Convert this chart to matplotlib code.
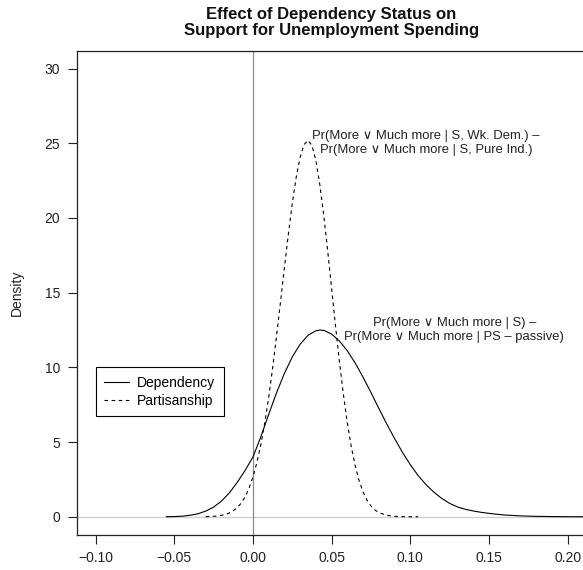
import matplotlib
matplotlib.use("Agg")
import matplotlib.pyplot as plt

plt.rcParams['font.family'] = ['Liberation Sans', 'DejaVu Sans']

# density of the first difference, dependency model (solid line)
dep_x = [-0.055, -0.05, -0.045, -0.04, -0.035, -0.03, -0.025, -0.02, -0.015, -0.01, -0.005,
         0.0, 0.005, 0.01, 0.015, 0.02, 0.025, 0.03, 0.035, 0.04, 0.0425, 0.045,
         0.05, 0.055, 0.06, 0.065, 0.07, 0.075, 0.08, 0.085, 0.09, 0.095, 0.10, 0.105,
         0.11, 0.115, 0.12, 0.125, 0.13, 0.135, 0.14, 0.145, 0.15, 0.155, 0.16,
         0.17, 0.18, 0.19, 0.20, 0.215]
dep_y = [0.005, 0.015, 0.04, 0.1, 0.2, 0.38, 0.65, 1.05, 1.6, 2.3, 3.1,
         4.0, 5.35, 6.85, 8.3, 9.6, 10.7, 11.55, 12.15, 12.45, 12.5, 12.48,
         12.23, 11.76, 11.11, 10.29, 9.34, 8.32, 7.26, 6.22, 5.24, 4.32, 3.49, 2.76,
         2.15, 1.65, 1.23, 0.9, 0.66, 0.5, 0.39, 0.3, 0.23, 0.17, 0.12,
         0.06, 0.03, 0.015, 0.006, 0.002]

# partisanship model (dashed line)
par_x = [-0.03, -0.025, -0.02, -0.0175, -0.015, -0.0125, -0.01, -0.0075, -0.005, -0.0025,
         0.0, 0.0025, 0.005, 0.0075, 0.01, 0.0125, 0.015, 0.0175, 0.02, 0.0225,
         0.025, 0.0275, 0.03, 0.0325, 0.035, 0.0375, 0.04, 0.0425, 0.045, 0.0475,
         0.05, 0.0525, 0.055, 0.0575, 0.06, 0.0625, 0.065, 0.0675, 0.07, 0.0725,
         0.075, 0.0775, 0.08, 0.085, 0.09, 0.095, 0.10, 0.105]
par_y = [0.01, 0.03, 0.10, 0.16, 0.255, 0.40, 0.61, 0.91, 1.34, 1.90,
         2.66, 3.63, 4.82, 6.28, 7.99, 9.95, 12.10, 14.36, 16.68, 18.90,
         20.97, 22.73, 24.07, 24.91, 25.2, 24.85, 23.85, 22.24, 20.18, 17.81,
         15.28, 12.75, 10.36, 8.19, 6.28, 4.69, 3.41, 2.41, 1.66, 1.11,
         0.72, 0.46, 0.28, 0.10, 0.03, 0.01, 0.003, 0.0]

x_ticks = [-0.10, -0.05, 0.00, 0.05, 0.10, 0.15, 0.20]
y_ticks = [0, 5, 10, 15, 20, 25, 30]

label_par = "Pr(More \u2228 Much more | S, Wk. Dem.) \u2013\nPr(More \u2228 Much more | S, Pure Ind.)"
label_dep = "Pr(More \u2228 Much more | S) \u2013\nPr(More \u2228 Much more | PS \u2013 passive)"

fig = plt.figure(figsize=(5.83, 5.70), dpi=100)
ax = fig.add_axes([0.1316, 0.0619, 0.8744, 0.8492])

# reference lines at zero
ax.axhline(0, color="#cfcfcf", lw=0.9, zorder=1)
ax.axvline(0, color="#8a8a8a", lw=0.9, zorder=1)

ax.plot(dep_x, dep_y, color="black", lw=0.8, label="Dependency", zorder=3)
ax.plot(par_x, par_y, color="black", lw=0.8, ls=(0, (3.2, 3.2)), label="Partisanship", zorder=3)

ax.text(0.11, 25, label_par, ha="center", va="center", fontsize=9.4, multialignment="center",
        color="#222222")
ax.text(0.128, 12.5, label_dep, ha="center", va="center", fontsize=9.4, multialignment="center",
        color="#222222")

ax.set_xlim(-0.112, 0.212)
ax.set_ylim(-1.2, 31.2)
ax.set_xticks(x_ticks)
ax.set_xticklabels([("\u2212" if v < 0 else "") + "%.2f" % abs(v) for v in x_ticks])
ax.set_yticks(y_ticks)
ax.tick_params(direction="out", length=6.5, width=0.8, labelsize=10, pad=5.5,
               color="#222222", labelcolor="#222222")

for s in ax.spines.values():
    s.set_linewidth(0.9)
    s.set_color("#222222")

leg = ax.legend(loc="upper left", bbox_to_anchor=(-0.1, 10), bbox_transform=ax.transData,
                fontsize=10, fancybox=False, edgecolor="black", framealpha=1,
                borderaxespad=0, handlelength=1.8, handletextpad=0.6,
                borderpad=0.6, labelspacing=0.3)
leg.get_frame().set_linewidth(0.8)

fig.text(0.0297, 0.4865, "Density", rotation=90, ha="center", va="center", fontsize=10,
         color="#222222")
fig.text(0.5688, 0.9605, "Effect of Dependency Status on\nSupport for Unemployment Spending",
         ha="center", va="center", fontsize=12, fontweight="bold", linespacing=1.15,
         color="#111111")

fig.savefig("out.png", dpi=100)
